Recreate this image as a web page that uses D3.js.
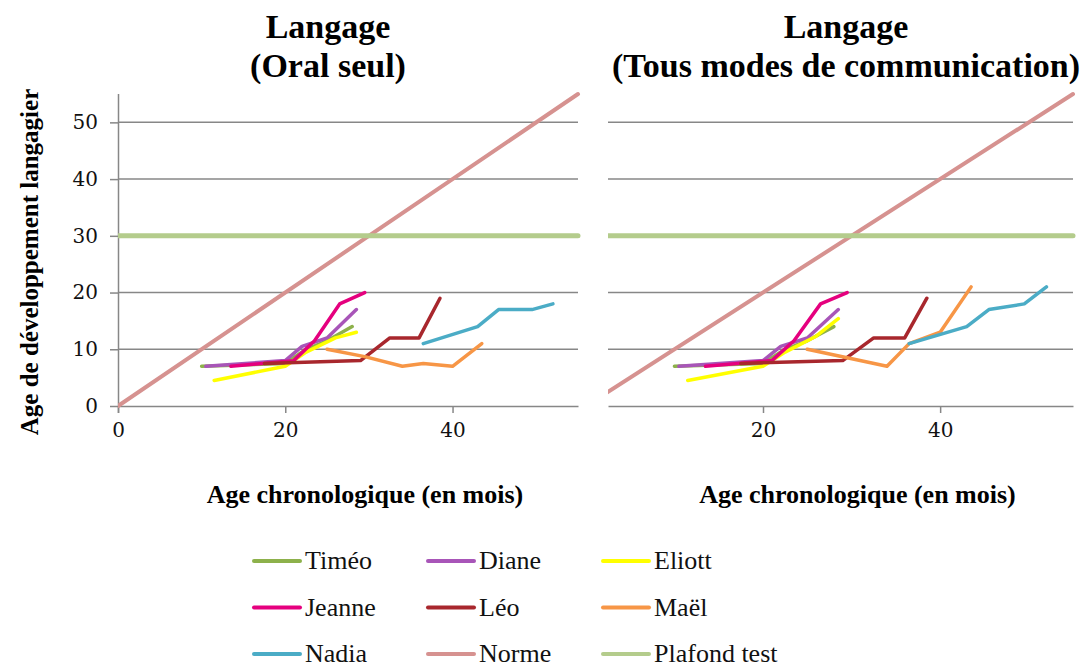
<!DOCTYPE html>
<html>
<head>
<meta charset="utf-8">
<script src="https://cdn.jsdelivr.net/npm/d3@7"></script>
<style>
  body { margin: 0; background: white; }
  text { font-family: "Liberation Serif", "DejaVu Serif", serif; }
  .tick text { font-family: "DejaVu Serif", serif; font-size: 20px; }
</style>
</head>
<body>
<script>
// ----------------------------------- DATA --------------------------------------------
var names = ['Timéo', 'Diane', 'Eliott', 'Jeanne', 'Léo', 'Maël', 'Nadia', 'Norme', 'Plafond test']
var colors = ['#8db14b', '#a855b8', '#ffff00', '#e5007e', '#a8272d', '#f79646', '#4bacc6', '#d69290', '#b4cc8c']

var timeoAge = [10, 20, 22.5, 25, 28]
var timeoOral = [7, 7.5, 10, 11.5, 14]
var timeoTous = [7, 7.5, 10, 11.5, 14]

var dianeAge = [10.5, 20, 22, 25, 28.5]
var dianeOral = [7, 8, 10.5, 12, 17]
var dianeTous = [7, 8, 10.5, 12, 17]

var eliottAge = [11.5, 20, 22.5, 26, 28.5]
var eliottOral = [4.5, 7, 9.5, 12, 13]
var eliottTous = [4.5, 7, 9.5, 12.3, 15.4]

var jeanneAge = [13.5, 21, 23.5, 26.5, 29.5]
var jeanneOral = [7, 8, 11.5, 18, 20]
var jeanneTous = [7, 8, 11.5, 18, 20]

var leoAge = [17.5, 29, 32.5, 36, 38.5]
var leoOral = [7.5, 8, 12, 12, 19]
var leoTous = [7.5, 8, 12, 12, 19]

var maelAge = [25, 29.5, 34, 36.5, 40, 43.5]
var maelOral = [10, 8.7, 7, 7.5, 7, 11]
var maelTous = [10, 8.5, 7, 11, 13, 21]

var nadiaAge = [36.5, 43, 45.5, 49.5, 52]
var nadiaOral = [11, 14, 17, 17, 18]
var nadiaTous = [11, 14, 17, 18, 21]

var normeAge = [0, 55]
var normeVal = [0, 55]

var plafondAge = [0, 55]
var plafondVal = [30, 30]

var yTicks = [0, 10, 20, 30, 40, 50]
// ----------------------------------------------------------------------------------------------

function pts(ages, vals) {
	return ages.map(function(a, i){ return {x: a, y: vals[i]} })
}

var oralSeries = [pts(timeoAge, timeoOral), pts(dianeAge, dianeOral), pts(eliottAge, eliottOral),
	pts(jeanneAge, jeanneOral), pts(leoAge, leoOral), pts(maelAge, maelOral),
	pts(nadiaAge, nadiaOral), pts(normeAge, normeVal), pts(plafondAge, plafondVal)]

var tousSeries = [pts(timeoAge, timeoTous), pts(dianeAge, dianeTous), pts(eliottAge, eliottTous),
	pts(jeanneAge, jeanneTous), pts(leoAge, leoTous), pts(maelAge, maelTous),
	pts(nadiaAge, nadiaTous), pts(normeAge, normeVal), pts(plafondAge, plafondVal)]

var widths = [3.5, 3.5, 3.5, 3.5, 3.5, 3.5, 3.5, 4, 5]

// ----------------------------------- SVG --------------------------------------------
var width = 1088
var height = 667

var svg = d3.select('body')
	.append('svg')
	.attr('width', width)
	.attr('height', height)

var grid = '#878787'
var yScale = d3.scaleLinear().domain([0, 55]).range([406, 94])

// ----------------------------------- PANELS --------------------------------------------
var panels = [
	{id: 'p1', series: oralSeries, domain: [0, 55], range: [118, 578], yAxis: true,
	 ticks: [0, 20, 40], title: ['Langage', '(Oral seul)'], tx: 328},
	{id: 'p2', series: tousSeries, domain: [2.5, 55], range: [608, 1073], yAxis: false,
	 ticks: [20, 40], title: ['Langage', '(Tous modes de communication)'], tx: 846}
]

panels.forEach(function(p){
	var x = d3.scaleLinear().domain(p.domain).range(p.range)
	var g = svg.append('g')

	svg.append('clipPath').attr('id', 'clip-' + p.id)
		.append('rect')
		.attr('x', p.range[0]).attr('y', yScale(55) - 3)
		.attr('width', p.range[1] - p.range[0] + 3).attr('height', yScale(0) - yScale(55) + 6)

	// gridlines
	g.selectAll('.grid')
		.data(yTicks.slice(1))
		.enter()
		.append('line')
		.attr('x1', p.range[0]).attr('x2', p.range[1])
		.attr('y1', d => yScale(d)).attr('y2', d => yScale(d))
		.attr('stroke', grid)
		.attr('stroke-width', 1.5)

	// x axis
	var xAxis = g.append('g')
		.attr('transform', 'translate(0,' + yScale(0) + ')')
		.call(d3.axisBottom(x).tickValues(p.ticks).tickSize(7).tickPadding(10).tickSizeOuter(0))
	xAxis.select('.domain').attr('stroke', grid).attr('stroke-width', 1.5)
	xAxis.selectAll('.tick line').attr('stroke', grid).attr('stroke-width', 1.5)
	xAxis.selectAll('.tick text').attr('fill', '#111')

	if (p.yAxis) {
		var yAxis = g.append('g')
			.attr('transform', 'translate(' + p.range[0] + ',0)')
			.call(d3.axisLeft(yScale).tickValues(yTicks).tickSize(8).tickPadding(12).tickSizeOuter(0))
		yAxis.select('.domain').attr('stroke', grid).attr('stroke-width', 1.5)
			.attr('d', 'M0.5,' + (yScale(0) + 7) + 'V' + yScale(55))
		yAxis.selectAll('.tick line').attr('stroke', grid).attr('stroke-width', 1.5)
		yAxis.selectAll('.tick text').attr('fill', '#111')
	}

	// lines
	var line = d3.line().x(d => x(d.x)).y(d => yScale(d.y))
	g.append('g')
		.attr('clip-path', 'url(#clip-' + p.id + ')')
		.selectAll('path')
		.data(p.series)
		.enter()
		.append('path')
		.attr('d', line)
		.attr('fill', 'none')
		.attr('stroke', (d, i) => colors[i])
		.attr('stroke-width', (d, i) => widths[i])
		.attr('stroke-linejoin', 'round')
		.attr('stroke-linecap', 'round')

	// title
	g.selectAll('.title')
		.data(p.title)
		.enter()
		.append('text')
		.attr('x', p.tx)
		.attr('y', (d, i) => 38 + i * 39)
		.attr('text-anchor', 'middle')
		.attr('font-size', 34)
		.attr('font-weight', 'bold')
		.attr('fill', '#000')
		.text(d => d)

	// x title
	g.append('text')
		.attr('x', (p.range[0] + p.range[1]) / 2 + 17)
		.attr('y', 503)
		.attr('text-anchor', 'middle')
		.attr('font-size', 26)
		.attr('font-weight', 'bold')
		.text('Age chronologique (en mois)')
})

// y title
svg.append('text')
	.attr('transform', 'translate(38,262) rotate(-90)')
	.attr('text-anchor', 'middle')
	.attr('font-size', 25)
	.attr('font-weight', 'bold')
	.text('Age de développement langagier')

// ----------------------------------- LEGEND --------------------------------------------
var legend = svg.selectAll('.legend')
	.data(names)
	.enter()
	.append('g')
	.attr('transform', (d, i) => 'translate(' + [254, 428, 603][i % 3] + ',' + (561 + Math.floor(i / 3) * 46.5) + ')')

legend.append('line')
	.attr('x1', 0).attr('x2', 46)
	.attr('stroke', (d, i) => colors[i])
	.attr('stroke-width', 4)
	.attr('stroke-linecap', 'round')

legend.append('text')
	.attr('x', 51)
	.attr('y', 8)
	.attr('font-size', 26)
	.attr('fill', '#111')
	.text(d => d)
</script>
</body>
</html>
